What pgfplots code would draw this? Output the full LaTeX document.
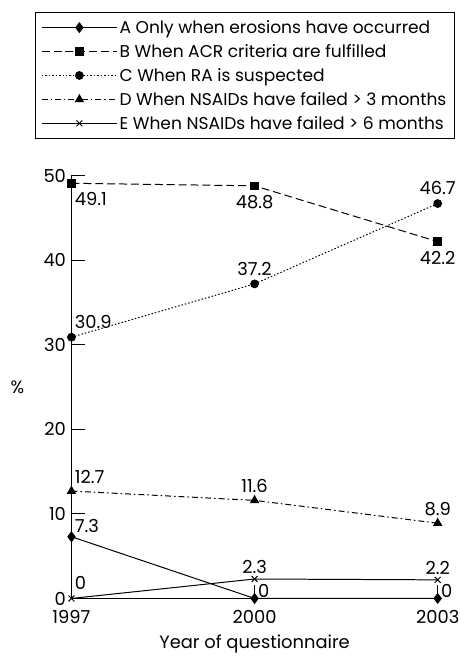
\documentclass[border=0pt]{standalone}
\usepackage{fontspec}
\setmainfont{Poppins}
\usepackage{pgfplots}
\pgfplotsset{compat=1.18}
\begin{document}
\begin{tikzpicture}[font=\fontsize{18}{21}\selectfont]
\begin{axis}[
    name=ax,
    scale only axis,
    width=369pt, height=426pt,
    axis lines=left,
    axis line style={-, line width=0.9pt},
    xmin=1997, xmax=2003, ymin=0, ymax=50,
    xtick={1997,2000,2003},
    ytick={0,10,20,30,40,50},
    tick align=inside,
    major tick length=14pt,
    tick style={line width=0.8pt, black},
    xticklabel style={/pgf/number format/1000 sep={}, yshift=-8pt},
    /pgf/number format/assume math mode=true,
    yticklabel style={xshift=-2pt},
    clip=false,
    xlabel={Year of questionnaire},
    ylabel={\%},
    ylabel style={rotate=-90, at={(rel axis cs:0,0.5)}, xshift=-44pt},
    xlabel style={yshift=-5pt},
    legend cell align=left,
    legend style={at={(-0.1,1.387)}, anchor=north west, draw=black, line width=0.8pt,
        inner xsep=6pt, inner ysep=6pt, row sep=5.5pt,
        font=\fontsize{17.2}{20}\selectfont},
    legend image code/.code={
        \draw[#1] (0pt,0pt) -- (76pt,0pt);
        \draw[#1, solid] plot coordinates {(38pt,0pt)};},
    every axis plot/.append style={line width=1pt, black, mark options={solid, fill=black}},
]
\addplot[mark=diamond*, mark size=4.8pt] coordinates {(1997,7.3) (2000,0) (2003,0)};
\addplot[mark=square*, mark size=3.8pt, dash pattern=on 8pt off 4pt] coordinates {(1997,49.1) (2000,48.8) (2003,42.2)};
\addplot[mark=*, mark size=3.9pt, dash pattern=on 1.5pt off 2pt] coordinates {(1997,30.9) (2000,37.2) (2003,46.7)};
\addplot[mark=triangle*, mark size=4.5pt, dash pattern=on 6pt off 3pt on 1.5pt off 3pt] coordinates {(1997,12.7) (2000,11.6) (2003,8.9)};
\addplot[mark=x, mark size=4.2pt] coordinates {(1997,0) (2000,2.3) (2003,2.2)};
\legend{A Only when erosions have occurred, B When ACR criteria are fulfilled, C When RA is suspected, D When NSAIDs have failed > 3 months, E When NSAIDs have failed > 6 months}
% value labels
\node[anchor=north west, yshift=-6pt] at (axis cs:1997,49.1) {49.1};
\node[anchor=north, yshift=-6pt] at (axis cs:2000,48.8) {48.8};
\node[anchor=north, yshift=-6pt] at (axis cs:2003,42.2) {42.2};
\node[anchor=south west, yshift=5pt] at (axis cs:1997,30.9) {30.9};
\node[anchor=south, yshift=5pt] at (axis cs:2000,37.2) {37.2};
\node[anchor=south, yshift=5pt] at (axis cs:2003,46.7) {46.7};
\node[anchor=south west, yshift=4pt] at (axis cs:1997,12.7) {12.7};
\node[anchor=south, yshift=4pt] at (axis cs:2000,11.6) {11.6};
\node[anchor=south, yshift=4pt] at (axis cs:2003,8.9) {8.9};
\node[anchor=south west, yshift=1pt] at (axis cs:1997,7.3) {7.3};
\node[anchor=south west, yshift=3pt] at (axis cs:1997,0.3) {0};
\node[anchor=south, yshift=2pt] at (axis cs:2000,2.3) {2.3};
\node[anchor=south, yshift=2pt] at (axis cs:2003,2.2) {2.2};
\node[anchor=west] at (axis cs:2000,0.9) {0};
\node[anchor=west] at (axis cs:2003,0.9) {0};
\end{axis}
\pgfresetboundingbox
\path[use as bounding box] ([shift={(-72pt,-60pt)}]ax.south west) rectangle ([shift={(23pt,177pt)}]ax.north east);
\end{tikzpicture}
\end{document}
